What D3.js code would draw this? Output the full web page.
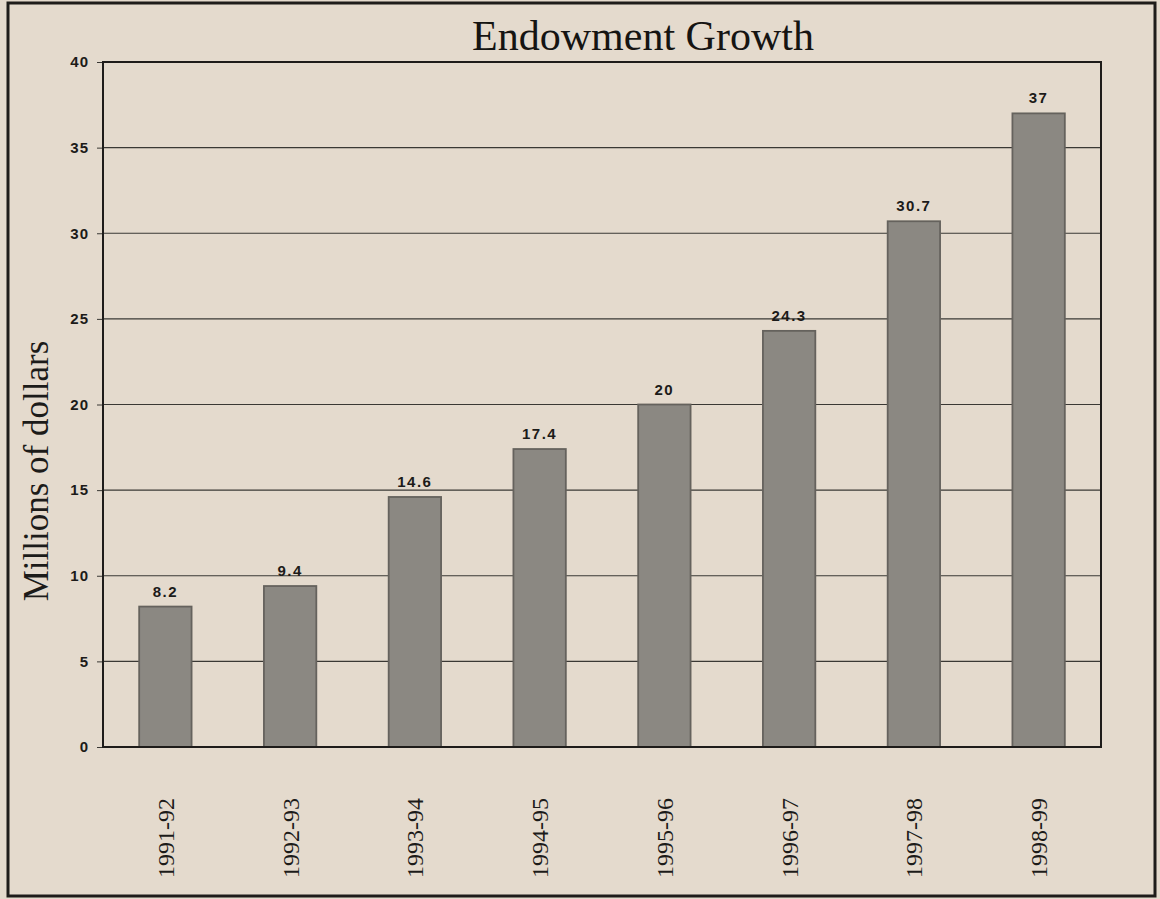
<!DOCTYPE html>
<html>
<head>
<meta charset="utf-8">
<script src="https://cdn.jsdelivr.net/npm/d3@7"></script>
<style>
  body { margin: 0; background: #e4dacd; }
</style>
</head>
<body>
<div id="visualization"></div>
<script>
let w = 1160;
let h = 899;

// data
let years = ["1991-92", "1992-93", "1993-94", "1994-95", "1995-96", "1996-97", "1997-98", "1998-99"];
let endowment = [8.2, 9.4, 14.6, 17.4, 20, 24.3, 30.7, 37];
let yTicks = [0, 5, 10, 15, 20, 25, 30, 35, 40];

let plot = {left: 103, right: 1101, top: 62, bottom: 747};

let viz = d3.select("#visualization")
    .append("svg")
  .style("background-color", "#e4dacd")
  .attr("width", w)
  .attr("height", h)
;

// outer frame
viz.append("rect")
  .attr("x", 8).attr("y", 3)
  .attr("width", 1147).attr("height", 893)
  .attr("fill", "none")
  .attr("stroke", "#1e1c1a")
  .attr("stroke-width", 3);

// title
viz.append("text")
  .attr("x", 643).attr("y", 50)
  .attr("text-anchor", "middle")
  .style("font-family", "'Liberation Serif', 'Times New Roman', serif")
  .style("font-size", "42px")
  .attr("fill", "#151412")
  .text("Endowment Growth");

let xScale = d3.scaleBand().domain(years).range([plot.left, plot.right]).paddingInner(0.58).paddingOuter(0.29);
let yScale = d3.scaleLinear().domain([0, 40]).range([plot.bottom, plot.top]);

// grid lines
viz.selectAll(".grid").data(yTicks.slice(1)).enter()
  .append("line")
  .attr("class", "grid")
  .attr("x1", plot.left).attr("x2", plot.right)
  .attr("y1", d => yScale(d)).attr("y2", d => yScale(d))
  .attr("stroke", "#3a3834")
  .attr("stroke-width", 1.2);

// y axis
let yAxis = d3.axisLeft(yScale).tickValues(yTicks).tickSize(6).tickPadding(8);
let yAxisGroup = viz.append("g")
  .attr("transform", "translate(" + plot.left + ",0)")
  .call(yAxis);
yAxisGroup.select(".domain").remove();
yAxisGroup.selectAll("line").attr("stroke", "#3a3834");
yAxisGroup.selectAll("text")
  .style("font-family", "'Liberation Sans', Arial, sans-serif")
  .style("font-size", "15px")
  .style("font-weight", "bold")
  .style("letter-spacing", "1px")
  .attr("fill", "#1c1b19");

// bars
viz.selectAll(".bar").data(endowment).enter()
  .append("rect")
  .attr("class", "bar")
  .attr("x", (d, i) => xScale(years[i]))
  .attr("y", d => yScale(d))
  .attr("width", xScale.bandwidth())
  .attr("height", d => yScale(0) - yScale(d))
  .attr("fill", "#8b8882")
  .attr("stroke", "#65625d")
  .attr("stroke-width", 1.8);

// value labels
viz.selectAll(".val").data(endowment).enter()
  .append("text")
  .attr("class", "val")
  .attr("x", (d, i) => xScale(years[i]) + xScale.bandwidth() / 2)
  .attr("y", d => yScale(d) - 10)
  .attr("text-anchor", "middle")
  .style("font-family", "'Liberation Sans', Arial, sans-serif")
  .style("font-size", "15px")
  .style("font-weight", "600")
  .style("letter-spacing", "1.5px")
  .attr("fill", "#1c1b19")
  .text(d => d);

// plot frame
viz.append("rect")
  .attr("x", plot.left).attr("y", plot.top)
  .attr("width", plot.right - plot.left).attr("height", plot.bottom - plot.top)
  .attr("fill", "none")
  .attr("stroke", "#1e1c1a")
  .attr("stroke-width", 2);

// x labels
let xAxis = d3.axisBottom(xScale).tickSize(0);
let xAxisGroup = viz.append("g")
  .attr("transform", "translate(0," + plot.bottom + ")")
  .call(xAxis);
xAxisGroup.select(".domain").remove();
xAxisGroup.selectAll("text")
  .attr("transform", "translate(0,131) rotate(-90)")
  .attr("x", 0).attr("y", 0).attr("dy", "0.35em")
  .attr("text-anchor", "start")
  .style("font-family", "'Liberation Serif', 'Times New Roman', serif")
  .style("font-size", "24px")
  .attr("fill", "#1c1b19");

// y axis title
viz.append("text")
  .attr("transform", "translate(48,471) rotate(-90)")
  .attr("text-anchor", "middle")
  .style("font-family", "'Liberation Serif', 'Times New Roman', serif")
  .style("font-size", "35px")
  .attr("fill", "#1c1b19")
  .text("Millions of dollars");
</script>
</body>
</html>
